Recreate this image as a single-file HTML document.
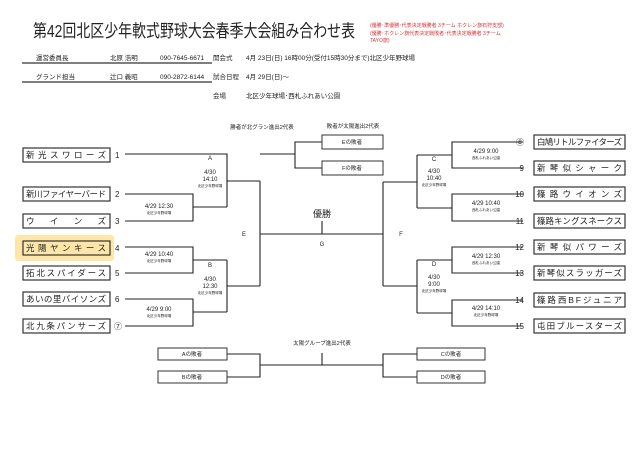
<!DOCTYPE html>
<html><head><meta charset="utf-8"><style>
body{margin:0;background:#fff;}
svg text{font-family:"Liberation Sans","Noto Sans CJK JP",sans-serif;fill:#222;}
</style></head><body>
<svg width="640" height="449" viewBox="0 0 640 449" xmlns="http://www.w3.org/2000/svg">
<rect width="640" height="449" fill="#fff"/>
<text x="33" y="37" font-size="17.5" textLength="322" lengthAdjust="spacingAndGlyphs" fill="#111">第42回北区少年軟式野球大会春季大会組み合わせ表</text>
<g font-size="5" style="fill:#d33">
<text x="370" y="27" style="fill:#d33">(優勝･準優勝･代表決定戦勝者 3チーム ホクレン旗石狩支部)</text>
<text x="370" y="35" style="fill:#d33">(優勝･ホクレン旗代表決定戦敗者･代表決定戦勝者 3チーム</text>
<text x="370" y="42" style="fill:#d33">TAYO旗)</text>
</g>
<g font-size="6.5">
<text x="36" y="60">運営委員長</text><text x="110" y="60">北原 浩明</text><text x="160" y="60">090-7645-6671</text>
<text x="36" y="79">グランド担当</text><text x="110" y="79">辻口 義昭</text><text x="160" y="79">090-2872-6144</text>
<text x="213" y="60">開会式</text><text x="246" y="60">4月 23日(日) 16時00分(受付15時30分まで)北区少年野球場</text>
<text x="213" y="79">試合日程</text><text x="246" y="79">4月 29日(日)～</text>
<text x="213" y="98">会場</text><text x="246" y="98">北区少年球場･西札ふれあい公園</text>
</g>
<g stroke="#333" stroke-width="1.2"><line x1="22" y1="63" x2="212" y2="63"/><line x1="22" y1="82" x2="212" y2="82"/></g>

<!-- team boxes -->
<g fill="#fff" stroke="#333" stroke-width="1.2">
<rect x="15" y="235" width="99" height="26" fill="#fde6a8" stroke="none" rx="3"/>
<rect x="23" y="148" width="87" height="14"/>
<rect x="23" y="187" width="87" height="14"/>
<rect x="23" y="214" width="87" height="14"/>
<rect x="23" y="241" width="87" height="14" fill="none"/>
<rect x="23" y="266" width="87" height="14"/>
<rect x="23" y="292" width="87" height="14"/>
<rect x="23" y="319" width="87" height="14"/>
<rect x="534" y="135" width="91" height="14"/>
<rect x="534" y="161" width="91" height="14"/>
<rect x="534" y="187" width="91" height="14"/>
<rect x="534" y="214" width="91" height="14"/>
<rect x="534" y="240" width="91" height="14"/>
<rect x="534" y="266" width="91" height="14"/>
<rect x="534" y="293" width="91" height="14"/>
<rect x="534" y="319" width="91" height="14"/>
</g>
<g font-size="8.5">
<text x="26" y="158" textLength="80" lengthAdjust="spacing">新光スワローズ</text>
<text x="26" y="197" textLength="80" lengthAdjust="spacing">新川ファイヤーバード</text>
<text x="26" y="224" textLength="80" lengthAdjust="spacing">ウインズ</text>
<text x="26" y="251" textLength="80" lengthAdjust="spacing">光陽ヤンキース</text>
<text x="26" y="276" textLength="80" lengthAdjust="spacing">拓北スパイダース</text>
<text x="26" y="302" textLength="80" lengthAdjust="spacing">あいの里バイソンズ</text>
<text x="26" y="329" textLength="80" lengthAdjust="spacing">北九条パンサーズ</text>
<text x="537" y="145" textLength="85" lengthAdjust="spacing">白鳩リトルファイターズ</text>
<text x="537" y="171" textLength="85" lengthAdjust="spacing">新琴似シャーク</text>
<text x="537" y="197" textLength="85" lengthAdjust="spacing">篠路ウイオンズ</text>
<text x="537" y="224" textLength="85" lengthAdjust="spacing">篠路キングスネークス</text>
<text x="537" y="250" textLength="85" lengthAdjust="spacing">新琴似パワーズ</text>
<text x="537" y="276" textLength="85" lengthAdjust="spacing">新琴似スラッガーズ</text>
<text x="537" y="303" textLength="85" lengthAdjust="spacing">篠路西BFジュニア</text>
<text x="537" y="329" textLength="85" lengthAdjust="spacing">屯田ブルースターズ</text>
</g>
<g font-size="8" fill="#444">
<text x="115" y="158">1</text><text x="115" y="197">2</text><text x="115" y="224">3</text><text x="115" y="251">4</text><text x="115" y="276">5</text><text x="115" y="302">6</text><text x="114" y="329">⑦</text>
<text x="524" y="145" text-anchor="end">⑧</text><text x="524" y="171" text-anchor="end">9</text><text x="524" y="197" text-anchor="end">10</text><text x="524" y="224" text-anchor="end">11</text><text x="524" y="250" text-anchor="end">12</text><text x="524" y="276" text-anchor="end">13</text><text x="524" y="303" text-anchor="end">14</text><text x="524" y="329" text-anchor="end">15</text>
</g>

<g stroke="#222" stroke-width="1.1" fill="none">
<!-- left -->
<polyline points="125,154 227,154 227,207"/>
<polyline points="125,194 193,194 193,221 125,221"/>
<line x1="193" y1="207" x2="227" y2="207"/>
<line x1="227" y1="181" x2="260" y2="181"/>
<polyline points="125,247 193,247 193,273 125,273"/>
<polyline points="125,299 193,299 193,326 125,326"/>
<line x1="193" y1="260" x2="227" y2="260"/>
<line x1="193" y1="312" x2="227" y2="312"/>
<line x1="227" y1="260" x2="227" y2="312"/>
<line x1="227" y1="286" x2="260" y2="286"/>
<line x1="260" y1="181" x2="260" y2="286"/>
<line x1="260" y1="234" x2="383" y2="234"/>
<line x1="322" y1="221" x2="322" y2="234"/>
<!-- right -->
<line x1="383" y1="182" x2="383" y2="286"/>
<line x1="383" y1="182" x2="417" y2="182"/>
<line x1="383" y1="286" x2="417" y2="286"/>
<line x1="417" y1="155" x2="417" y2="208"/>
<line x1="417" y1="260" x2="417" y2="313"/>
<line x1="417" y1="155" x2="452" y2="155"/>
<line x1="417" y1="208" x2="452" y2="208"/>
<line x1="417" y1="260" x2="452" y2="260"/>
<line x1="417" y1="313" x2="452" y2="313"/>
<polyline points="523,142 452,142 452,168 523,168"/>
<polyline points="523,194 452,194 452,221 523,221"/>
<polyline points="523,247 452,247 452,273 523,273"/>
<polyline points="523,300 452,300 452,326 523,326"/>
<!-- top losers -->
<line x1="260" y1="154" x2="295" y2="154"/>
<polyline points="322,142 295,142 295,168 322,168"/>
<!-- bottom -->
<polyline points="227,354 260,354 260,377 227,377"/>
<polyline points="417,354 383,354 383,377 417,377"/>
<line x1="260" y1="365" x2="383" y2="365"/>
<line x1="322" y1="353" x2="322" y2="365"/>
</g>
<g fill="#fff" stroke="#333" stroke-width="1">
<rect x="322" y="135" width="61" height="14"/><rect x="322" y="161" width="61" height="14"/>
<rect x="158" y="348" width="69" height="12"/><rect x="158" y="371" width="69" height="12"/>
<rect x="417" y="348" width="68" height="12"/><rect x="417" y="371" width="68" height="12"/>
</g>
<g font-size="5.5" text-anchor="middle">
<text x="352" y="144">Eの敗者</text><text x="352" y="170">Fの敗者</text>
<text x="192" y="356">Aの敗者</text><text x="192" y="379">Bの敗者</text>
<text x="451" y="356">Cの敗者</text><text x="451" y="379">Dの敗者</text>
<text x="262" y="129">勝者が北グラン進出2代表</text>
<text x="353" y="128">敗者が太陽進出2代表</text>
<text x="322" y="345">太陽グループ進出2代表</text>
</g>
<text x="322" y="217" font-size="9" text-anchor="middle">優勝</text>
<g font-size="6" text-anchor="middle">
<text x="322" y="246">G</text><text x="244" y="236">E</text><text x="401" y="236">F</text>
<text x="210" y="160">A</text><text x="210" y="267">B</text><text x="434" y="161">C</text><text x="434" y="266">D</text>
<text x="210" y="174">4/30</text><text x="210" y="181">14:10</text>
<text x="210" y="281">4/30</text><text x="210" y="288">12:30</text>
<text x="434" y="173">4/30</text><text x="434" y="180">10:40</text>
<text x="434" y="279">4/30</text><text x="434" y="286">9:00</text>
<text x="159" y="208">4/29 12:30</text><text x="159" y="256">4/29 10:40</text><text x="159" y="311">4/29 9:00</text>
<text x="486" y="153">4/29 9:00</text><text x="486" y="205">4/29 10:40</text><text x="486" y="258">4/29 12:30</text><text x="486" y="310">4/29 14:10</text>
</g>
<g font-size="3.5" text-anchor="middle">
<text x="210" y="187">北区少年野球場</text><text x="210" y="294">北区少年野球場</text>
<text x="434" y="186">北区少年野球場</text><text x="434" y="292">北区少年野球場</text>
<text x="159" y="214">北区少年野球場</text><text x="159" y="262">北区少年野球場</text><text x="159" y="317">北区少年野球場</text>
<text x="486" y="159">西札ふれあい公園</text><text x="486" y="211">西札ふれあい公園</text><text x="486" y="264">西札ふれあい公園</text><text x="486" y="316">北区少年野球場</text>
</g>
</svg>
</body></html>
